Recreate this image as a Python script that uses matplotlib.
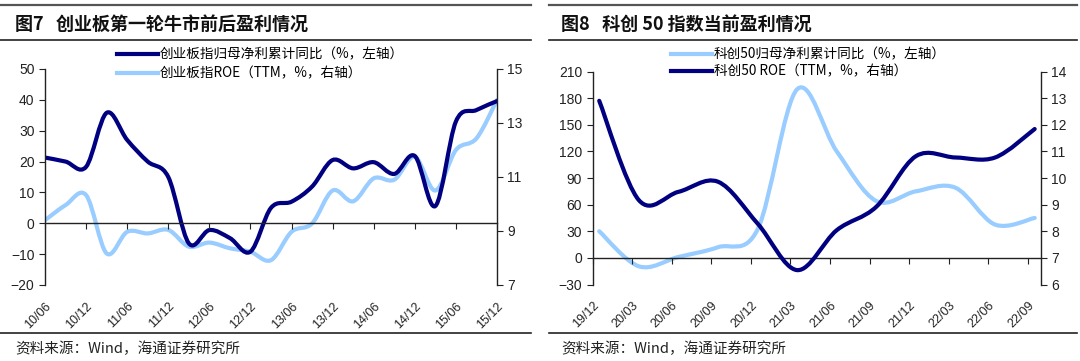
import matplotlib
matplotlib.use("Agg")
import matplotlib.pyplot as plt
import numpy as np
from matplotlib.path import Path
from matplotlib.patches import PathPatch
from matplotlib.lines import Line2D

plt.rcParams['font.family'] = ['Liberation Sans', 'Noto Sans CJK SC', 'DejaVu Sans']

# ---- data: 图7 创业板 (quarterly, 10/06 .. 15/12)
cyb_ticklabels = ['10/06', '10/12', '11/06', '11/12', '12/06', '12/12',
                  '13/06', '13/12', '14/06', '14/12', '15/06', '15/12']
cyb_profit_yoy = [21.3, 20.0, 18.3, 35.8, 27.0, 20.0, 15.0, -6.5, -2.2, -4.8, -9.2, 5.0,
                  7.0, 11.9, 20.5, 17.8, 19.8, 16.0, 21.8, 5.6, 33.0, 36.7, 39.6]
cyb_roe = [9.4, 9.96, 10.33, 8.17, 8.97, 8.91, 9.04, 8.42, 8.57, 8.36, 8.23, 7.92,
           8.97, 9.28, 10.5, 10.1, 10.95, 10.9, 11.75, 10.5, 12.0, 12.43, 13.85]

# ---- data: 图8 科创50 (quarterly, 19/12 .. 22/09)
kc_ticklabels = ['19/12', '20/03', '20/06', '20/09', '20/12', '21/03',
                 '21/06', '21/09', '21/12', '22/03', '22/06', '22/09']
kc_profit_yoy = [30, -9.5, 1, 12, 32, 190, 120, 64, 75, 79, 37.5, 45]
kc_roe = [12.9, 9.17, 9.48, 9.86, 8.29, 6.54, 8.04, 8.92, 10.82, 10.77, 10.77, 11.84]

DARK = '#000080'
LIGHT = '#99ccff'
CJK = ['Noto Sans CJK SC', 'Liberation Sans']


def smooth_path(x, y):
    # Catmull-Rom style smoothing drawn as cubic Bezier segments
    pts = np.column_stack([x, y]).astype(float)
    n = len(pts)
    verts = [pts[0]]
    codes = [Path.MOVETO]
    for i in range(n - 1):
        p0 = pts[i - 1] if i > 0 else pts[i]
        p1 = pts[i]
        p2 = pts[i + 1]
        p3 = pts[i + 2] if i + 2 < n else pts[i + 1]
        c1 = p1 + (p2 - p0) / 6.0
        c2 = p2 - (p3 - p1) / 6.0
        verts += [c1, c2, p2]
        codes += [Path.CURVE4] * 3
    return Path(verts, codes)


def draw_curve(ax, x, y, color):
    patch = PathPatch(smooth_path(x, y), facecolor='none', edgecolor=color,
                      lw=3.0, capstyle='round', joinstyle='round')
    ax.add_patch(patch)


def style_axes(ax, ax2):
    for a in (ax, ax2):
        a.spines['top'].set_visible(False)
        for s in a.spines.values():
            s.set_color('#222222')
            s.set_linewidth(1.0)
    ax.spines['right'].set_visible(False)
    ax2.spines['left'].set_visible(False)
    ax2.spines['bottom'].set_visible(False)
    ax.spines['bottom'].set_position(('data', 0))
    ax.tick_params(axis='y', direction='out', length=4, labelsize=10, colors='#222222')
    ax2.tick_params(axis='y', direction='out', length=4, labelsize=10, colors='#222222')
    ax.tick_params(axis='x', direction='out', length=4, labelbottom=False, colors='#222222')


def add_xlabels(ax, ticks, labels):
    sec = ax.secondary_xaxis(0)
    sec.set_xticks(ticks)
    sec.set_xticklabels(labels, rotation=45, ha='right', va='top',
                        rotation_mode='anchor', fontsize=9)
    sec.tick_params(length=0, pad=11, colors='#222222')
    sec.spines['bottom'].set_visible(False)


fig = plt.figure(figsize=(10.8, 3.61), dpi=100)

# ---------------- left chart
ax1 = fig.add_axes([45 / 1080, 1 - 285 / 361, 452 / 1080, 216 / 361])
ax1b = ax1.twinx()
x1 = np.arange(len(cyb_profit_yoy))
ax1.set_xlim(0, len(x1) - 1)
ax1.set_ylim(-20, 50)
ax1.set_yticks(range(-20, 51, 10))
ax1b.set_ylim(7, 15)
ax1b.set_yticks([7, 9, 11, 13, 15])
ax1.set_xticks(x1[::2])
draw_curve(ax1b, x1, cyb_roe, LIGHT)
draw_curve(ax1, x1, cyb_profit_yoy, DARK)
ax1.set_zorder(ax1b.get_zorder() + 1)
ax1.patch.set_visible(False)
style_axes(ax1, ax1b)
add_xlabels(ax1, x1[::2], cyb_ticklabels)

h1 = [Line2D([], [], color=DARK, lw=3), Line2D([], [], color=LIGHT, lw=3)]
fig.legend(h1, ['创业板指归母净利累计同比（%，左轴）', '创业板指ROE（TTM，%，右轴）'],
           loc='center left', bbox_to_anchor=(117 / 1080, 1 - 64 / 361),
           frameon=False, handlelength=3.0, handletextpad=0.15,
           labelspacing=0.35, borderpad=0, borderaxespad=0,
           prop={'family': CJK, 'size': 9.8})

# ---------------- right chart
ax2 = fig.add_axes([592.5 / 1080, 1 - 284.5 / 361, 448.5 / 1080, 213 / 361])
ax2b = ax2.twinx()
x2 = np.arange(len(kc_profit_yoy))
ax2.set_xlim(-0.17, len(x2) - 1 + 0.16)
ax2.set_ylim(-30, 210)
ax2.set_yticks(range(-30, 211, 30))
ax2b.set_ylim(6, 14)
ax2b.set_yticks(range(6, 15))
ax2.set_xticks(x2 - 0.17)
draw_curve(ax2, x2, kc_profit_yoy, LIGHT)
draw_curve(ax2b, x2, kc_roe, DARK)
ax2b.set_zorder(ax2.get_zorder() + 1)
style_axes(ax2, ax2b)
add_xlabels(ax2, x2 - 0.17, kc_ticklabels)

h2 = [Line2D([], [], color=LIGHT, lw=3), Line2D([], [], color=DARK, lw=3)]
fig.legend(h2, ['科创50归母净利累计同比（%，左轴）', '科创50 ROE（TTM，%，右轴）'],
           loc='center left', bbox_to_anchor=(671 / 1080, 1 - 63 / 361),
           frameon=False, handlelength=3.0, handletextpad=0.15,
           labelspacing=0.2, borderpad=0, borderaxespad=0,
           prop={'family': CJK, 'size': 9.8})

# ---------------- titles, rules, sources
for x0, x1r in [(0, 531 / 1080), (549 / 1080, 1077 / 1080)]:
    fig.add_artist(Line2D([x0, x1r], [1 - 4.5 / 361] * 2, transform=fig.transFigure,
                          color='#555555', lw=1.6))
    fig.add_artist(Line2D([x0, x1r], [1 - 40 / 361] * 2, transform=fig.transFigure,
                          color='#222222', lw=1.2))
    fig.add_artist(Line2D([x0, x1r], [1 - 333 / 361] * 2, transform=fig.transFigure,
                          color='#222222', lw=1.2))

fig.text(15 / 1080, 1 - 24 / 361, '图7   创业板第一轮牛市前后盈利情况', fontsize=13,
         fontweight='bold', va='center', ha='left', family=CJK, color='#111111')
fig.text(561 / 1080, 1 - 24 / 361, '图8   科创 50 指数当前盈利情况', fontsize=13,
         fontweight='bold', va='center', ha='left', family=CJK, color='#111111')
fig.text(15 / 1080, 1 - 349 / 361, '资料来源：Wind，海通证券研究所', fontsize=10.5,
         va='center', ha='left', family=CJK, color='#222222')
fig.text(561 / 1080, 1 - 349 / 361, '资料来源：Wind，海通证券研究所', fontsize=10.5,
         va='center', ha='left', family=CJK, color='#222222')

fig.savefig('out.png', dpi=100)
